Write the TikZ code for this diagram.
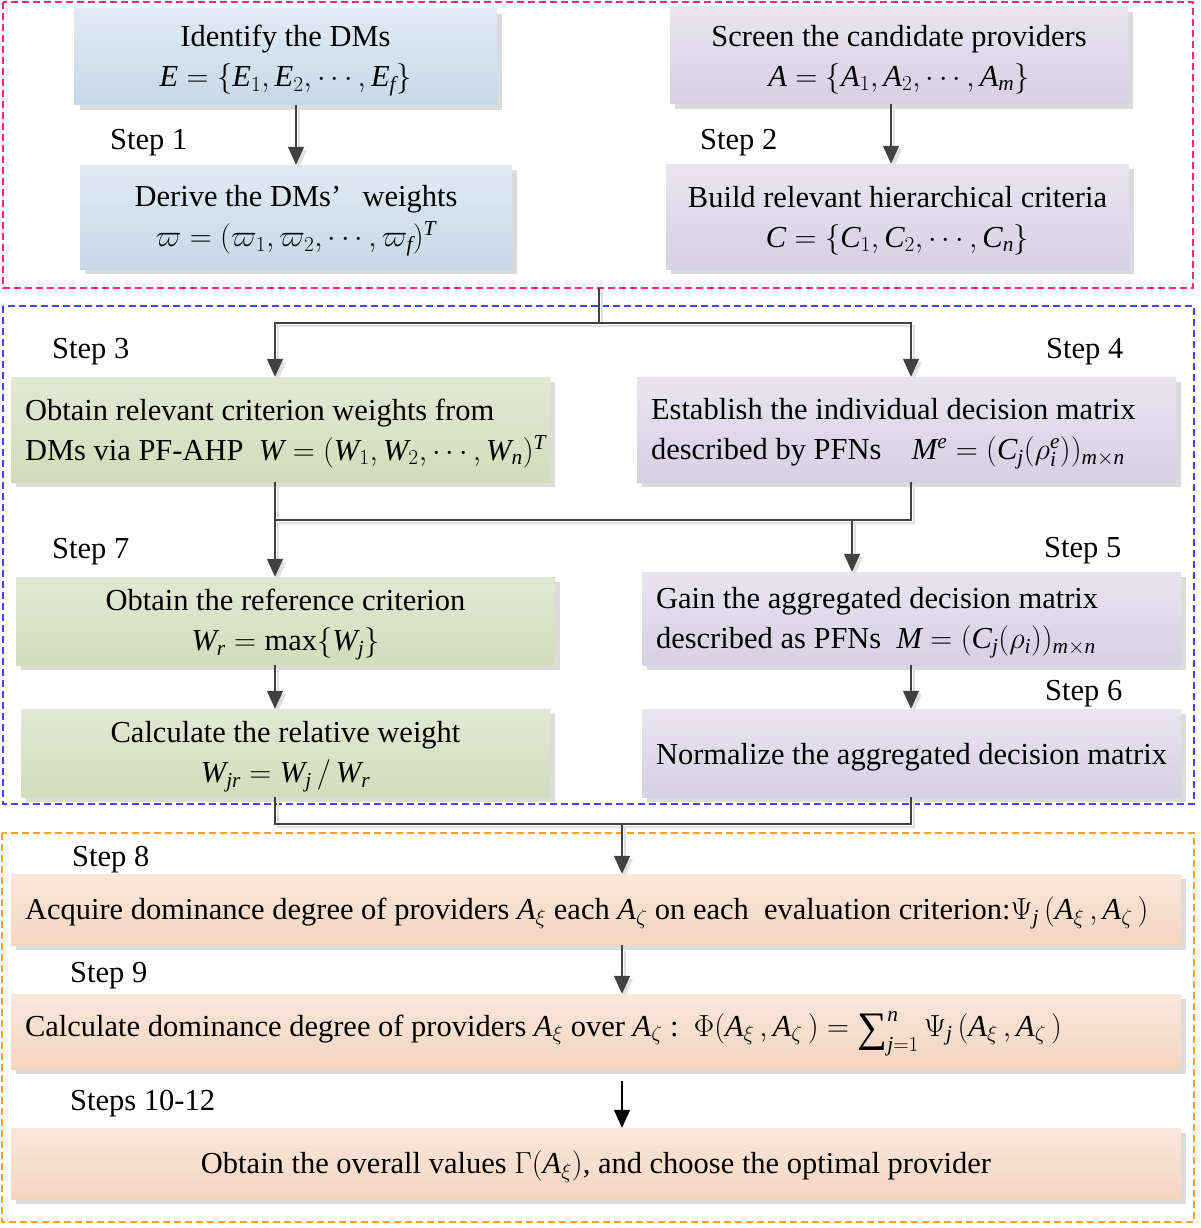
\RequirePackage{fix-cm}
\documentclass[tikz,border=0pt]{standalone}
\usepackage{fontspec}
\setmainfont{Liberation Serif}
\DeclareSymbolFont{lsit}{TU}{\rmdefault}{m}{it}
\DeclareMathSymbol{A}{\mathalpha}{lsit}{`A}
\DeclareMathSymbol{C}{\mathalpha}{lsit}{`C}
\DeclareMathSymbol{E}{\mathalpha}{lsit}{`E}
\DeclareMathSymbol{M}{\mathalpha}{lsit}{`M}
\DeclareMathSymbol{W}{\mathalpha}{lsit}{`W}
\DeclareMathSymbol{T}{\mathalpha}{lsit}{`T}
\DeclareMathSymbol{f}{\mathalpha}{lsit}{`f}
\DeclareMathSymbol{m}{\mathalpha}{lsit}{`m}
\DeclareMathSymbol{n}{\mathalpha}{lsit}{`n}
\DeclareMathSymbol{r}{\mathalpha}{lsit}{`r}
\DeclareMathSymbol{j}{\mathalpha}{lsit}{`j}
\DeclareMathSymbol{e}{\mathalpha}{lsit}{`e}
\DeclareMathSymbol{i}{\mathalpha}{lsit}{`i}
\newcommand{\bigsum}{\mathop{\mbox{\fontsize{42}{42}\selectfont\raisebox{-5pt}{∑}}}\nolimits}
\newcommand{\tstrut}{\rule{0pt}{29pt}}
\newcommand{\boxfont}{\fontsize{30.5}{40}\selectfont\lineskiplimit=-60pt\relax}
\usetikzlibrary{arrows.meta,shadows,calc}
\definecolor{bluetop}{RGB}{225,234,243}
\definecolor{bluebot}{RGB}{198,216,232}
\definecolor{purtop}{RGB}{232,229,240}
\definecolor{purbot}{RGB}{214,208,228}
\definecolor{grntop}{RGB}{227,232,212}
\definecolor{grnbot}{RGB}{211,220,187}
\definecolor{orgtop}{RGB}{250,231,220}
\definecolor{orgbot}{RGB}{244,213,192}
\definecolor{framepink}{RGB}{250,40,120}
\definecolor{frameblue}{RGB}{70,70,240}
\definecolor{frameorange}{RGB}{250,160,30}
\definecolor{linegray}{RGB}{65,65,65}
\begin{document}
\begin{tikzpicture}[x=1pt,y=-1pt,
  every node/.style={font=\boxfont},
  box/.style={rectangle, inner xsep=14pt, inner ysep=0pt,
    drop shadow={shadow xshift=5pt,shadow yshift=-5pt,fill=black!14,opacity=1}},
  bluebox/.style={box, top color=bluetop, bottom color=bluebot},
  purbox/.style={box, top color=purtop, bottom color=purbot},
  grnbox/.style={box, top color=grntop, bottom color=grnbot},
  orgbox/.style={box, top color=orgtop, bottom color=orgbot},
  conn/.style={draw=linegray, line width=1.3pt,
    preaction={draw=black!12, line width=1.3pt, transform canvas={shift={(3pt,-3pt)}}}},
  arr/.style={conn, -{Triangle[width=16pt,length=18pt]}},
  arrblack/.style={draw=black, line width=1.3pt, -{Triangle[width=16pt,length=18pt]}},
  steplabel/.style={anchor=west, inner sep=0pt},
  frame/.style={line width=1.3pt, dash pattern=on 7pt off 4pt}
]
\useasboundingbox (0,0) rectangle (1200,1228);

% frames
\draw[frame, framepink] (3,2) rectangle (1193,288);
\draw[frame, frameblue] (3,306) rectangle (1194,804);
\draw[frame, frameorange] (2,833) rectangle (1194,1222);
\coordinate (f1s) at (599,288);

% top group
\node[bluebox, minimum width=422pt, minimum height=96pt, text width=394pt, align=flush center] (b1) at (285.5,57)
  {\tstrut Identify the DMs\\$E=\{E_1,E_2,\cdots,E_f\}$};
\node[bluebox, minimum width=432pt, minimum height=104pt, text width=404pt, align=flush center] (b2) at (296,217)
  {\tstrut Derive the DMs’\hspace{0.7em}weights\\$\varpi=(\varpi_1,\varpi_2,\cdots,\varpi_f)^T$};
\node[purbox, minimum width=458pt, minimum height=97pt, text width=430pt, align=flush center] (b3) at (899,55.5)
  {\tstrut Screen the candidate providers\\$A=\{A_1,A_2,\cdots,A_m\}$};
\node[purbox, minimum width=463pt, minimum height=105pt, text width=435pt, align=flush center] (b4) at (897.5,216.5)
  {\tstrut Build relevant hierarchical criteria\\$C=\{C_1,C_2,\cdots,C_n\}$};

\node[steplabel] (l1) at (110,143) {Step 1};
\node[steplabel] (l2) at (700,143) {Step 2};

% middle group
\node[grnbox, minimum width=539pt, minimum height=105pt, text width=511pt, align=flush left] (s3) at (280.5,429.5)
  {\tstrut Obtain relevant criterion weights from\\\mbox{DMs via PF-AHP\enspace $W=(W_1,W_2,\cdots,W_n)^T$}};
\node[purbox, minimum width=539pt, minimum height=105pt, text width=511pt, align=flush left] (s4) at (906.5,429.5)
  {\tstrut Establish the individual decision matrix\\\mbox{described by PFNs\quad $M^e=(C_j(\rho_i^e))_{m\times n}$}};
\node[grnbox, minimum width=539pt, minimum height=88pt, text width=511pt, align=flush center] (s7) at (285.5,621)
  {\tstrut Obtain the reference criterion\\$W_r=\max\{W_j\}$};
\node[purbox, minimum width=539pt, minimum height=93pt, text width=511pt, align=flush left] (s5) at (911.5,618.5)
  {\tstrut Gain the aggregated decision matrix\\\mbox{described as PFNs\enspace $M=(C_j(\rho_i))_{m\times n}$}};
\node[grnbox, minimum width=529pt, minimum height=88pt, text width=501pt, align=flush center] (s7b) at (285.5,753)
  {\tstrut Calculate the relative weight\\$W_{jr}=W_j\,/\,W_r$};
\node[purbox, minimum width=539pt, minimum height=88pt, text width=511pt, align=flush center] (s6) at (911.5,753)
  {\tstrut Normalize the aggregated decision matrix};

\node[steplabel] (l3) at (52,352) {Step 3};
\node[steplabel] (l4) at (1046,352) {Step 4};
\node[steplabel] (l7) at (52,552) {Step 7};
\node[steplabel] (l5) at (1044,551) {Step 5};
\node[steplabel] (l6) at (1045,694) {Step 6};

% bottom group
\node[orgbox, minimum width=1170pt, minimum height=71pt, text width=1142pt, align=flush left] (s8) at (596,909.5)
  {\tstrut\mbox{Acquire dominance degree of providers $A_\xi$ each $A_\zeta$ on each\enspace evaluation criterion:$\Psi_j\,(A_\xi\,,A_\zeta\,)$}};
\node[orgbox, minimum width=1170pt, minimum height=75pt, text width=1142pt, align=flush left] (s9) at (596,1031.5)
  {\tstrut\mbox{Calculate dominance degree of providers $A_\xi$ over $A_\zeta$ :\enspace $\Phi(A_\xi\,,A_\zeta\,)=\bigsum_{j=1}^{n}\Psi_j\,(A_\xi\,,A_\zeta\,)$}};
\node[orgbox, minimum width=1170pt, minimum height=71pt, text width=1142pt, align=flush center] (s10) at (596,1163.5)
  {\tstrut Obtain the overall values $\Gamma(A_\xi)$, and choose the optimal provider};

\node[steplabel] (l8) at (72,860) {Step 8};
\node[steplabel] (l9) at (70,976) {Step 9};
\node[steplabel] (l10) at (70,1104) {Steps 10-12};

% connectors
\coordinate (a2) at (891,0);
\draw[arr] (b1.south -| b2.north) -- (b2.north);
\draw[arr] (a2 |- b3.south) -- (a2 |- b4.north);

\coordinate (j1) at (599,323);
\coordinate (xl) at (275,0);
\coordinate (xr) at (911,0);
\draw[conn] (f1s) -- (j1);
\draw[arr] (j1) -| (xl |- s3.north);
\draw[arr] (j1) -| (xr |- s4.north);

\coordinate (m1) at (275,520);
\coordinate (m2) at (911,520);
\coordinate (m3) at (852,520);
\draw[conn] (xl |- s3.south) -- (m1) -- (m2) -- (xr |- s4.south);
\draw[arr] (m1) -- (m1 |- s7.north);
\draw[arr] (m3) -- (m3 |- s5.north);
\draw[arr] (m1 |- s7.south) -- (m1 |- s7b.north);
\draw[arr] (m2 |- s5.south) -- (m2 |- s6.north);

\coordinate (n1) at (275,824);
\coordinate (n2) at (911,824);
\coordinate (n3) at (622,824);
\draw[conn] (n1 |- s7b.south) -- (n1) -- (n2) -- (n2 |- s6.south);
\draw[arr] (n3) -- (n3 |- s8.north);
\draw[arr] (n3 |- s8.south) -- (n3 |- s9.north);
\coordinate (q1) at (622,1081);
\draw[arrblack] (q1) -- (q1 |- s10.north);
\end{tikzpicture}
\end{document}
